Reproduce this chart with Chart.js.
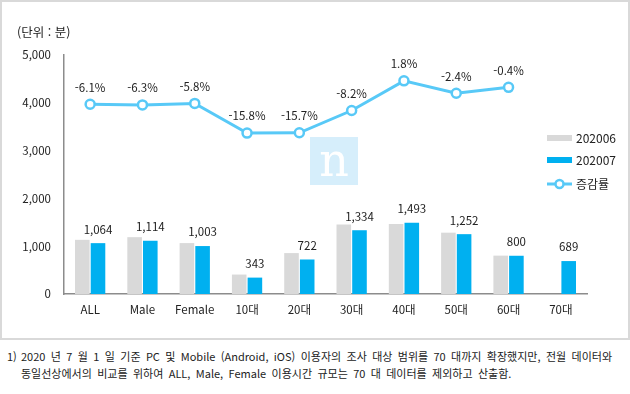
<!DOCTYPE html>
<html lang="ko">
<head>
<meta charset="utf-8">
<script src="https://cdn.jsdelivr.net/npm/chart.js@4"></script>
<style>
  body { margin: 0; background: #fff; font-family: 'Noto Sans CJK KR', sans-serif; }
  .box {
    position: absolute; left: 0; top: 0; width: 626px; height: 336px;
    border: 2px solid #d9d9d9;
  }
  #chartUsage { position: absolute; left: 0; top: 0; }
  .unit { position: absolute; left: 17px; top: 22px; font-size: 12.5px; color: #222; }
  .note { position: absolute; font-size: 11px; color: #222; white-space: nowrap; }
  .note1 { left: 21px; top: 348px; width: 591px; text-align: justify; text-align-last: justify; white-space: normal; }
  .note2 { left: 21px; top: 365px; word-spacing: 2.3px; }
  .num { position: absolute; left: 7px; top: 348px; font-size: 11px; color: #222; }
</style>
</head>
<body>
<div class="box"></div>
<canvas id="chartUsage" width="630" height="340"></canvas>
<div class="unit">(단위 : 분)</div>
<div class="num">1)</div>
<div class="note note1">2020 년 7 월 1 일 기준 PC 및 Mobile (Android, iOS) 이용자의 조사 대상 범위를 70 대까지 확장했지만, 전월 데이터와</div>
<div class="note note2">동일선상에서의 비교를 위하여 ALL, Male, Female 이용시간 규모는 70 대 데이터를 제외하고 산출함.</div>

<script>
// Data
const categories = ['ALL', 'Male', 'Female', '10대', '20대', '30대', '40대', '50대', '60대', '70대'];
const june = [1133, 1189, 1065, 407, 856, 1453, 1467, 1283, 803, null];
const july = [1064, 1114, 1003, 343, 722, 1334, 1493, 1252, 800, 689];
const change = [-6.1, -6.3, -5.8, -15.8, -15.7, -8.2, 1.8, -2.4, -0.4, null];
const yTicks = [0, 1000, 2000, 3000, 4000, 5000];

const FONT = "'Noto Sans CJK KR', sans-serif";
const GRAY = '#d9d9d9';
const BLUE = '#00b0f0';
const LINE = '#58c9f7';

// value labels above july bars and above line points
const valueLabels = {
  id: 'valueLabels',
  afterDatasetsDraw(chart) {
    const ctx = chart.ctx;
    ctx.save();
    ctx.font = '11.5px ' + FONT;
    ctx.fillStyle = '#222';
    ctx.textAlign = 'center';
    ctx.textBaseline = 'middle';
    chart.getDatasetMeta(1).data.forEach((bar, i) => {
      if (july[i] == null) return;
      ctx.fillText(july[i].toLocaleString('en-US'), bar.x, bar.y - 14);
    });
    chart.getDatasetMeta(2).data.forEach((pt, i) => {
      if (change[i] == null) return;
      ctx.fillText(change[i].toFixed(1) + '%', pt.x, pt.y - 17);
    });
    ctx.restore();
  }
};

// watermark box
const watermark = {
  id: 'watermark',
  beforeDatasetsDraw(chart) {
    const ctx = chart.ctx;
    ctx.save();
    ctx.fillStyle = '#d6eefb';
    ctx.fillRect(310, 137, 48, 48);
    ctx.fillStyle = '#fff';
    ctx.font = '46px "DejaVu Serif", serif';
    ctx.textAlign = 'center';
    ctx.textBaseline = 'alphabetic';
    ctx.fillText('n', 334, 176);
    ctx.restore();
  }
};

// legend on the right
const sideLegend = {
  id: 'sideLegend',
  afterDraw(chart) {
    const ctx = chart.ctx;
    const x0 = 547, x1 = 572;
    ctx.save();
    ctx.textBaseline = 'middle';

    ctx.fillStyle = GRAY;
    ctx.fillRect(x0, 135, x1 - x0, 6);
    ctx.fillStyle = BLUE;
    ctx.fillRect(x0, 157, x1 - x0, 6);

    ctx.strokeStyle = LINE;
    ctx.lineWidth = 3;
    ctx.beginPath();
    ctx.moveTo(x0, 184);
    ctx.lineTo(x1, 184);
    ctx.stroke();
    ctx.beginPath();
    ctx.arc((x0 + x1) / 2, 184, 4, 0, Math.PI * 2);
    ctx.fillStyle = '#fff';
    ctx.fill();
    ctx.lineWidth = 2.5;
    ctx.stroke();

    ctx.font = '12px ' + FONT;
    ctx.fillStyle = '#222';
    ctx.fillText('202006', 576, 138);
    ctx.fillText('202007', 576, 160);
    ctx.fillText('증감률', 576, 184);
    ctx.restore();
  }
};

new Chart(document.getElementById('chartUsage'), {
  type: 'bar',
  data: {
    labels: categories,
    datasets: [
      { label: '202006', data: june, backgroundColor: GRAY, order: 1,
        barPercentage: 0.93, categoryPercentage: 0.6 },
      { label: '202007', data: july, backgroundColor: BLUE, order: 1,
        barPercentage: 0.93, categoryPercentage: 0.6 },
      { label: '증감률', type: 'line', data: change, yAxisID: 'y1', order: 0,
        borderColor: LINE, borderWidth: 3, pointRadius: 4.5, pointBorderWidth: 2.5,
        pointBackgroundColor: '#fff', pointBorderColor: LINE, tension: 0 }
    ]
  },
  options: {
    responsive: false,
    animation: false,
    layout: { padding: { left: 0, right: 43, top: 55, bottom: 0 } },
    plugins: { legend: { display: false }, tooltip: { enabled: false } },
    scales: {
      x: {
        grid: { display: false, drawTicks: false },
        border: { color: '#8c8c8c', width: 1.5 },
        ticks: { padding: 9, color: '#222', font: { family: FONT, size: 11.5 } },
        afterFit: s => { s.height = 46; }
      },
      y: {
        min: 0, max: 5000,
        afterBuildTicks: s => { s.ticks = yTicks.map(v => ({ value: v })); },
        grid: { display: false, drawTicks: false },
        border: { color: '#8c8c8c', width: 1.5 },
        ticks: { padding: 13, color: '#222', font: { family: FONT, size: 11.5 },
          callback: v => v.toLocaleString('en-US') },
        afterFit: s => { s.width = 64; }
      },
      y1: { display: false, min: -70, max: 10.5 }
    }
  },
  plugins: [watermark, valueLabels, sideLegend]
});
</script>
</body>
</html>
